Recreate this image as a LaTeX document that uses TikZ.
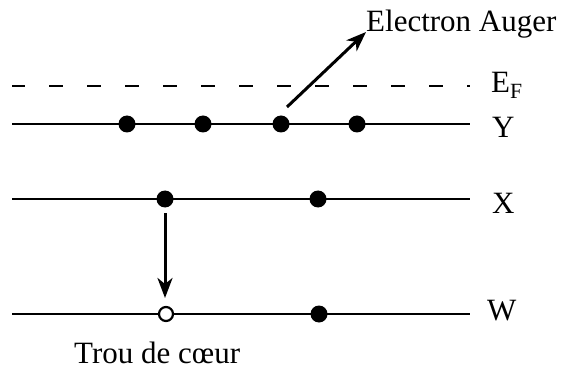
\documentclass[tikz,border=0pt]{standalone}
\usepackage{fontspec}
\setmainfont{Liberation Serif}
\usetikzlibrary{arrows.meta}
\begin{document}
\begin{tikzpicture}[x=1pt,y=-1pt,
  level/.style={line width=2.4pt},
  fermi/.style={line width=2.6pt,dash pattern=on 14pt off 24pt,dash phase=1pt},
  electron/.style={circle,fill=black,inner sep=0pt,minimum size=17pt},
  hole/.style={circle,draw=black,fill=white,line width=2.2pt,inner sep=0pt,minimum size=14pt},
  transition/.style={line width=3pt,-{Stealth[length=20pt,width=15pt,inset=6pt]}},
  lbl/.style={inner sep=0pt,anchor=base west,font=\fontsize{31}{36}\selectfont}
]
\useasboundingbox (0,0) rectangle (561,371);
% level end points
\coordinate (FL) at (12,86);  \coordinate (FR) at (470,86);
\coordinate (YL) at (12,124); \coordinate (YR) at (470,124);
\coordinate (XL) at (12,199); \coordinate (XR) at (470,199);
\coordinate (WL) at (12,314); \coordinate (WR) at (470,314);
\draw[fermi] (FL) -- (FR);
\draw[level] (YL) -- (YR);
\draw[level] (XL) -- (XR);
\draw[level] (WL) -- (WR);
% electrons
\node[electron] (y1) at (127,124) {};
\node[electron] (y2) at (203,124) {};
\node[electron] (y3) at (281,124) {};
\node[electron] (y4) at (357,124) {};
\node[electron] (x1) at (165,199) {};
\node[electron] (x2) at (318,199) {};
\node[hole]     (w1) at (166,314) {};
\node[electron] (w2) at (319,314) {};
% labels
\node[lbl] (auger) at (366,32) {Electron Auger};
\node[lbl] (ef) at (491,93) {E\textsubscript{F}};
\node[lbl] (ly) at (492,138) {Y};
\node[lbl] (lx) at (492,213) {X};
\node[lbl] (lw) at (487,320) {W};
\node[lbl] (trou) at (74,363) {Trou de cœur};
% transitions
\coordinate (atail) at (287,107);
\coordinate (atip) at (366,32);
\draw[transition] (atail) -- (atip);
\coordinate (vtail) at (165,213);
\coordinate (vtip) at (165,298);
\draw[transition] (vtail) -- (vtip);
\end{tikzpicture}
\end{document}
